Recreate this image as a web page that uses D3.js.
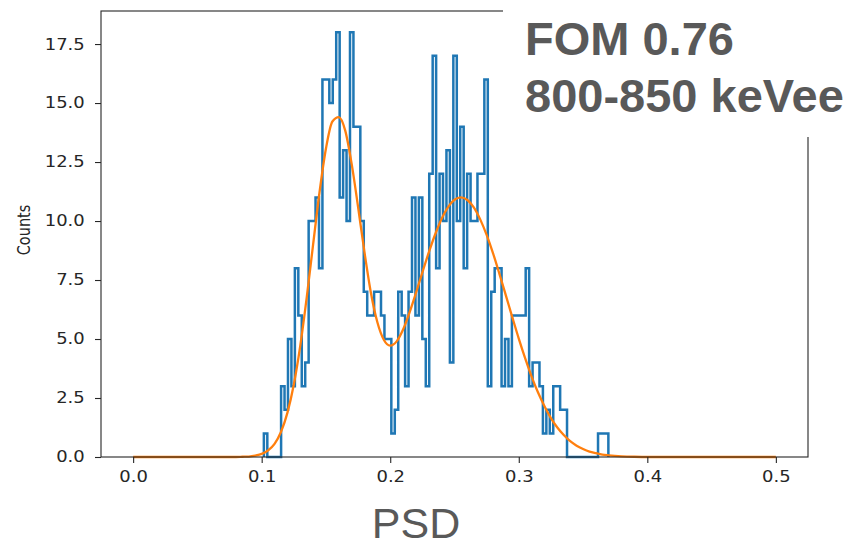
<!DOCTYPE html>
<html>
<head>
<meta charset="utf-8">
<script src="https://cdn.jsdelivr.net/npm/d3@7"></script>
<style>
    body { margin: 0; background: #ffffff; }
    svg { display: block; }
    .tick text { font-family: "DejaVu Sans", sans-serif; font-size: 15.5px; fill: #262626; }
</style>
</head>
<body>
<div id="plot"></div>
<script>
// histogram of PSD values (step outline)
var binStart = 0.1017;
var binWidth = 0.00268;
var counts = [
    1, 0, 0, 0, 0, 3, 2, 5, 3, 8,
    6, 3, 4, 10, 10, 11, 8, 16, 16, 15,
    16, 18, 11, 13, 10, 18, 14, 14, 10, 7,
    6, 6, 7, 7, 6, 5, 5, 1, 2, 7,
    6, 3, 7, 11, 6, 11, 5, 3, 12, 17,
    8, 12, 10, 13, 4, 17, 10, 14, 8, 12,
    10, 10, 12, 12, 16, 3, 7, 8, 8, 3,
    5, 3, 6, 6, 6, 6, 8, 3, 4, 4,
    3, 1, 2, 1, 3, 3, 2, 2, 0, 0,
    0, 0, 0, 0, 0, 0, 0, 1, 1, 1
];

// fitted double peak (orange)
var fitX = [0.0, 0.05, 0.08, 0.085, 0.09, 0.095, 0.10, 0.105, 0.11, 0.115, 0.12, 0.125,
    0.13, 0.135, 0.14, 0.145, 0.15, 0.155, 0.16, 0.165, 0.17, 0.175, 0.18, 0.185,
    0.19, 0.195, 0.20, 0.205, 0.21, 0.215, 0.22, 0.225, 0.23, 0.235, 0.24, 0.245,
    0.25, 0.255, 0.26, 0.265, 0.27, 0.275, 0.28, 0.285, 0.29, 0.295, 0.30, 0.305,
    0.31, 0.315, 0.32, 0.325, 0.33, 0.335, 0.34, 0.345, 0.35, 0.355, 0.36, 0.365,
    0.37, 0.38, 0.39, 0.40, 0.45, 0.50];
var fitY = [0.0, 0.0, 0.0, 0.01, 0.02, 0.06, 0.13, 0.28, 0.56, 1.06, 1.87, 3.07,
    4.71, 6.74, 9.00, 11.22, 13.07, 14.22, 14.40, 13.83, 12.42, 10.59, 8.67, 6.95,
    5.71, 4.97, 4.72, 4.90, 5.40, 6.12, 6.95, 7.82, 8.67, 9.44, 10.10, 10.59,
    10.90, 11.00, 10.89, 10.58, 10.07, 9.41, 8.63, 7.75, 6.84, 5.92, 5.02, 4.18,
    3.41, 2.73, 2.15, 1.65, 1.25, 0.93, 0.67, 0.48, 0.34, 0.23, 0.16, 0.10,
    0.07, 0.03, 0.01, 0.0, 0.0, 0.0];

var xTicks = [0.0, 0.1, 0.2, 0.3, 0.4, 0.5];
var yTicks = [0.0, 2.5, 5.0, 7.5, 10.0, 12.5, 15.0, 17.5];
var fomText = "FOM 0.76";
var rangeText = "800-850 keVee";

var W = 852, H = 547;
var box = { left: 101, right: 808, top: 11, bottom: 457 };
var stretch = 1.16; // the picture is a bit wider than tall

var svg = d3.select("#plot").append("svg")
    .attr("width", W)
    .attr("height", H);

var x = d3.scaleLinear().domain([-0.025, 0.525]).range([box.left, box.right]);
var y = d3.scaleLinear().domain([0, 18.9]).range([box.bottom, box.top]);

// step outline like matplotlib histtype='step'
var stepPts = [[binStart, 0]];
counts.forEach(function(c, i) {
    var e0 = binStart + i * binWidth;
    stepPts.push([e0, c]);
    stepPts.push([e0 + binWidth, c]);
});
stepPts.push([binStart + counts.length * binWidth, 0]);

var line = d3.line()
    .x(function(d) { return x(d[0]); })
    .y(function(d) { return y(d[1]); });

svg.append("path")
    .attr("d", line(stepPts))
    .attr("fill", "none")
    .attr("stroke", "#1f77b4")
    .attr("stroke-width", 2.5)
    .attr("stroke-linejoin", "miter");

var fitLine = d3.line()
    .x(function(d, i) { return x(fitX[i]); })
    .y(function(d) { return y(d); })
    .curve(d3.curveMonotoneX);

svg.append("path")
    .attr("d", fitLine(fitY))
    .attr("fill", "none")
    .attr("stroke", "#ff7f0e")
    .attr("stroke-width", 2.3);

// axes
var yAxis = d3.axisLeft(y).tickValues(yTicks).tickFormat(d3.format(".1f"))
    .tickSize(6).tickPadding(8);
var xAxis = d3.axisBottom(x).tickValues(xTicks).tickFormat(d3.format(".1f"))
    .tickSize(6).tickPadding(8);

var gy = svg.append("g")
    .attr("transform", "translate(" + box.left + ",0)")
    .call(yAxis);
var gx = svg.append("g")
    .attr("transform", "translate(0," + box.bottom + ")")
    .call(xAxis);

[gx, gy].forEach(function(g) {
    g.select(".domain").remove();
    g.selectAll(".tick line").attr("stroke", "#262626").attr("stroke-width", 1.1);
    g.selectAll(".tick text").attr("transform", "scale(" + stretch + ",1)");
});

svg.append("rect")
    .attr("x", box.left)
    .attr("y", box.top)
    .attr("width", box.right - box.left)
    .attr("height", box.bottom - box.top)
    .attr("fill", "none")
    .attr("stroke", "#262626")
    .attr("stroke-width", 1.1);

svg.append("text")
    .attr("transform", "translate(24,230) scale(" + stretch + ",1) rotate(-90)")
    .attr("text-anchor", "middle")
    .attr("dy", "0.35em")
    .style("font-family", "DejaVu Sans, sans-serif")
    .style("font-size", "14.5px")
    .style("fill", "#262626")
    .text("Counts");

// white label box pasted over the upper right corner
svg.append("rect")
    .attr("x", 503)
    .attr("y", 0)
    .attr("width", W - 503)
    .attr("height", 137)
    .attr("fill", "#ffffff");

svg.selectAll("text.big")
    .data([fomText, rangeText])
    .enter().append("text")
    .attr("class", "big")
    .attr("x", 525)
    .attr("y", function(d, i) { return 55 + i * 57; })
    .style("font-family", "Liberation Sans, Arial, sans-serif")
    .style("font-weight", "bold")
    .style("font-size", "47px")
    .style("fill", "#595959")
    .text(function(d) { return d; });

svg.append("text")
    .attr("x", 416)
    .attr("y", 538)
    .attr("text-anchor", "middle")
    .style("font-family", "Liberation Sans, Arial, sans-serif")
    .style("font-size", "43px")
    .style("fill", "#595959")
    .text("PSD");
</script>
</body>
</html>
